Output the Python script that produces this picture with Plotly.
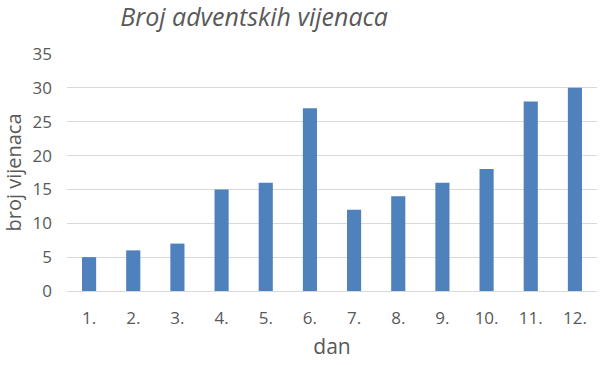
import plotly.graph_objects as go

days = ["1.", "2.", "3.", "4.", "5.", "6.", "7.", "8.", "9.", "10.", "11.", "12."]
wreaths = [5, 6, 7, 15, 16, 27, 12, 14, 16, 18, 28, 30]
y_ticks = [0, 5, 10, 15, 20, 25, 30, 35]

FONT = "Open Sans"
GREY = "#595959"

fig = go.Figure(go.Bar(x=days, y=wreaths, marker_color="#4F81BD", marker_line_width=0))

fig.update_layout(
    width=608, height=365,
    margin=dict(l=67, r=11, t=54, b=74, autoexpand=False),
    paper_bgcolor="white", plot_bgcolor="white",
    bargap=0.68,
    showlegend=False,
    title=dict(text="<i>Broj adventskih vijenaca</i>", x=0.418, xanchor="center",
               xref="container", y=0.976, yanchor="top", yref="container",
               pad=dict(t=0, b=0),
               font=dict(family=FONT, size=25, color=GREY)),
    font=dict(family=FONT, color=GREY),
)
fig.update_xaxes(
    automargin=False,
    showgrid=False, showline=True, linecolor="#D9D9D9", linewidth=1,
    tickfont=dict(size=17, color=GREY), ticks="", ticklabelstandoff=12,
    title=dict(text="dan", font=dict(size=21, color=GREY), standoff=10),
)
fig.update_yaxes(
    automargin=False,
    range=[0, 35], tickvals=y_ticks, showgrid=True, gridcolor="#D9D9D9", gridwidth=1,
    zeroline=False, showline=False, ticks="", ticklabelstandoff=14,
    tickfont=dict(size=17, color=GREY),
    title=dict(text="broj vijenaca", font=dict(size=20, color=GREY), standoff=16),
)
fig.write_html("out.html", config={"displayModeBar": False},
               post_script="document.body.style.margin='0';")
